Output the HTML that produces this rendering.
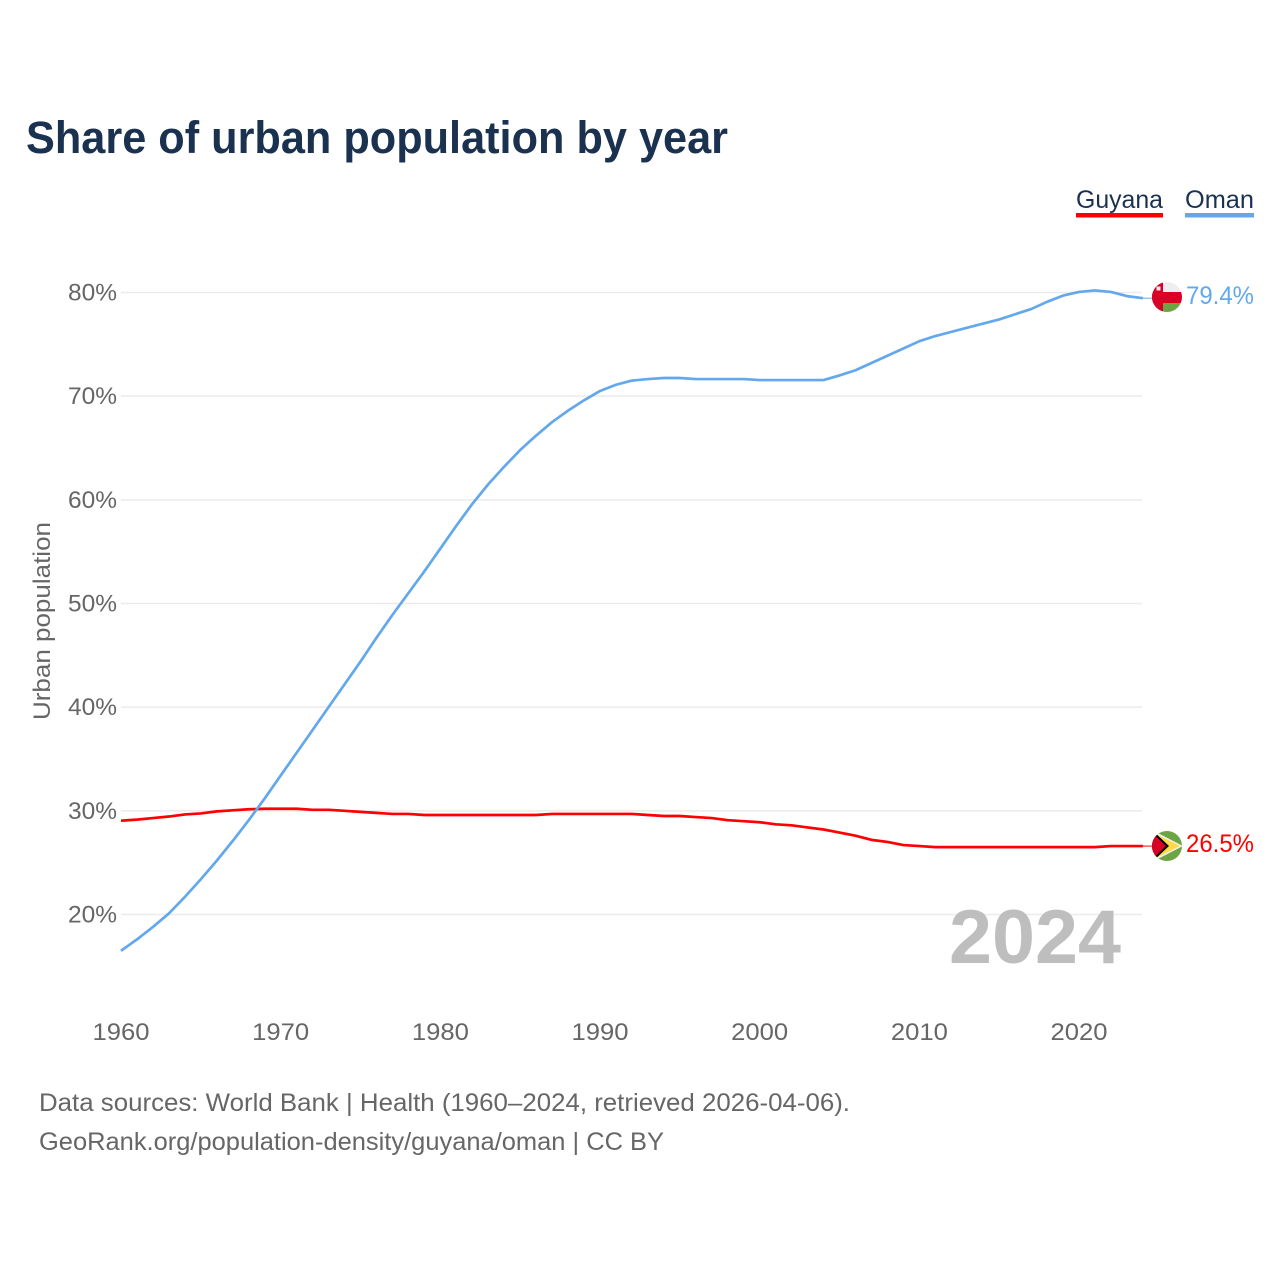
<!DOCTYPE html>
<html lang="en">
<head>
<meta charset="utf-8">
<title>Share of urban population by year</title>
<style>
html,body{margin:0;padding:0;background:#fff;width:1280px;height:1280px;overflow:hidden}
svg{display:block;font-family:"Liberation Sans",sans-serif}
</style>
</head>
<body>
<svg id="chart" xmlns="http://www.w3.org/2000/svg" width="1280" height="1280" viewBox="0 0 1280 1280">
  <defs>
    <clipPath id="oman-clip"><circle cx="1167" cy="297" r="15"/></clipPath>
    <clipPath id="guyana-clip"><circle cx="1167" cy="846" r="15"/></clipPath>
  </defs>
  <rect x="0" y="0" width="1280" height="1280" fill="#fff"/>
  <text x="26" y="153" font-size="45" font-weight="700" fill="#1a3150" textLength="702" lengthAdjust="spacingAndGlyphs">Share of urban population by year</text>

  <g>
    <g>
      <text x="1076" y="208" font-size="25" fill="#1a3150" textLength="87" lengthAdjust="spacingAndGlyphs">Guyana</text>
      <rect x="1076" y="213" width="87" height="4.5" fill="#ff0000"/>
    </g>
    <g>
      <text x="1185" y="208" font-size="25" fill="#1a3150" textLength="69" lengthAdjust="spacingAndGlyphs">Oman</text>
      <rect x="1185" y="213" width="69" height="4.5" fill="#63a8ec"/>
    </g>
  </g>

  <g id="grid"></g>
  <g id="yticks"></g>
  <g id="xticks"></g>
  <text transform="translate(50,621) rotate(-90)" text-anchor="middle" font-size="24" fill="#666" textLength="198" lengthAdjust="spacingAndGlyphs">Urban population</text>

  <text x="949" y="963" font-size="76" font-weight="700" fill="#bebebe" textLength="172" lengthAdjust="spacingAndGlyphs">2024</text>

  <g id="series"></g>

  <g clip-path="url(#oman-clip)">
    <rect x="1152" y="282" width="30" height="30" fill="#eeeeee"/>
    <rect x="1152" y="292" width="30" height="11" fill="#d80027"/>
    <rect x="1163" y="303" width="19" height="9" fill="#6da544"/>
    <rect x="1152" y="282" width="11" height="30" fill="#d80027"/>
    <rect x="1156.5" y="286.5" width="4" height="4" fill="#eeeeee"/>
  </g>
  <g clip-path="url(#guyana-clip)">
    <rect x="1152" y="831" width="30" height="30" fill="#6da544"/>
    <polygon points="1152,830 1183,846 1152,862" fill="#f0f0f0"/>
    <polygon points="1152,832 1180,846 1152,860" fill="#ffda44"/>
    <polygon points="1152,830 1169,846 1152,862" fill="#000000"/>
    <polygon points="1152,832.5 1166,846 1152,859.5" fill="#d80027"/>
  </g>

  <text x="1186" y="304" font-size="25" fill="#63a8ec" textLength="68" lengthAdjust="spacingAndGlyphs">79.4%</text>
  <text x="1186" y="852" font-size="25" fill="#ff0000" textLength="68" lengthAdjust="spacingAndGlyphs">26.5%</text>

  <text x="39" y="1111" font-size="25" fill="#666" textLength="811" lengthAdjust="spacingAndGlyphs">Data sources: World Bank | Health (1960–2024, retrieved 2026-04-06).</text>
  <text x="39" y="1150" font-size="25" fill="#666" textLength="625" lengthAdjust="spacingAndGlyphs">GeoRank.org/population-density/guyana/oman | CC BY</text>
</svg>
<script>
const firstYear = 1960;
const yTickValues = [20, 30, 40, 50, 60, 70, 80];
const xTickValues = [1960, 1970, 1980, 1990, 2000, 2010, 2020];
const omanValues = [16.5,17.6,18.8,20.1,21.7,23.4,25.2,27.1,29.1,31.2,
  33.4,35.6,37.8,40.0,42.2,44.4,46.7,48.9,51.0,53.1,
  55.3,57.5,59.6,61.5,63.2,64.8,66.2,67.5,68.6,69.6,
  70.5,71.1,71.5,71.65,71.75,71.75,71.65,71.65,71.65,71.65,
  71.55,71.55,71.55,71.55,71.55,72.0,72.5,73.2,73.9,74.6,
  75.3,75.8,76.2,76.6,77.0,77.4,77.9,78.4,79.1,79.7,
  80.05,80.2,80.05,79.65,79.45];
const guyanaValues = [29.05,29.15,29.3,29.45,29.65,29.75,29.95,30.05,30.15,30.2,
  30.2,30.2,30.1,30.1,30.0,29.9,29.8,29.7,29.7,29.6,
  29.6,29.6,29.6,29.6,29.6,29.6,29.6,29.7,29.7,29.7,
  29.7,29.7,29.7,29.6,29.5,29.5,29.4,29.3,29.1,29.0,
  28.9,28.7,28.6,28.4,28.2,27.9,27.6,27.2,27.0,26.7,
  26.6,26.5,26.5,26.5,26.5,26.5,26.5,26.5,26.5,26.5,
  26.5,26.5,26.6,26.6,26.6];

const SVG_NS = 'http://www.w3.org/2000/svg';
function xScale(year) { return 121 + (year - 1960) * 15.967; }
function yScale(pct) { return 914.5 - (pct - 20) * 10.367; }
function linePath(values) {
  return values.map(function (v, i) {
    return (i ? 'L' : 'M') + xScale(firstYear + i).toFixed(2) + ' ' + yScale(v).toFixed(2);
  }).join(' ');
}
const gridGroup = document.getElementById('grid');
const yTickGroup = document.getElementById('yticks');
const xTickGroup = document.getElementById('xticks');
const seriesGroup = document.getElementById('series');

yTickValues.forEach(function (t) {
  const line = document.createElementNS(SVG_NS, 'line');
  
  
  line.setAttribute('x1', 121);
  line.setAttribute('x2', 1142);
  line.setAttribute('y1', yScale(t));
  line.setAttribute('y2', yScale(t));
  line.setAttribute('stroke', '#ebebeb');
  line.setAttribute('stroke-width', '1.5');
  gridGroup.appendChild(line);

  const label = document.createElementNS(SVG_NS, 'text');
  
  
  label.setAttribute('x', 117);
  label.setAttribute('y', yScale(t) + 8);
  label.setAttribute('text-anchor', 'end');
  label.setAttribute('font-size', '24');
  label.setAttribute('fill', '#666');
  label.setAttribute('textLength', '49');
  label.setAttribute('lengthAdjust', 'spacingAndGlyphs');
  label.textContent = t + '%';
  yTickGroup.appendChild(label);
});

xTickValues.forEach(function (t) {
  const label = document.createElementNS(SVG_NS, 'text');
  
  
  label.setAttribute('x', xScale(t));
  label.setAttribute('y', 1040);
  label.setAttribute('text-anchor', 'middle');
  label.setAttribute('font-size', '24');
  label.setAttribute('fill', '#666');
  label.setAttribute('textLength', '57');
  label.setAttribute('lengthAdjust', 'spacingAndGlyphs');
  label.textContent = t;
  xTickGroup.appendChild(label);
});

function drawSeries(values, color, lineName, leaderName) {
  const lastY = yScale(values[values.length - 1]);
  const leader = document.createElementNS(SVG_NS, 'line');
  
  
  leader.setAttribute('x1', xScale(firstYear + values.length - 1));
  leader.setAttribute('x2', 1154);
  leader.setAttribute('y1', lastY);
  leader.setAttribute('y2', lastY);
  leader.setAttribute('stroke', color);
  leader.setAttribute('stroke-width', '1');
  seriesGroup.appendChild(leader);

  const path = document.createElementNS(SVG_NS, 'path');
  
  
  path.setAttribute('d', linePath(values));
  path.setAttribute('fill', 'none');
  path.setAttribute('stroke', color);
  path.setAttribute('stroke-width', '2.7');
  path.setAttribute('stroke-linejoin', 'round');
  seriesGroup.appendChild(path);
}
drawSeries(guyanaValues, '#ff0000', 'guyana-line', 'guyana-leader-line');
drawSeries(omanValues, '#63a8ec', 'oman-line', 'oman-leader-line');
</script>
</body>
</html>
